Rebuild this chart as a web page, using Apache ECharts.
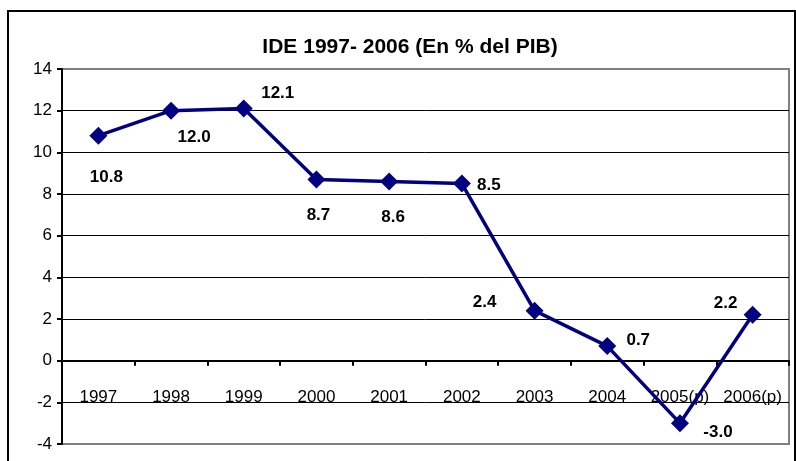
<!DOCTYPE html>
<html>
<head>
<meta charset="utf-8">
<script src="https://cdn.jsdelivr.net/npm/echarts@6/dist/echarts.min.js"></script>
<style>
  html, body { margin: 0; padding: 0; background: #fff; }
  #chart { width: 796px; height: 461px; }
</style>
</head>
<body>
<div id="chart"></div>
<script>
// data
var years = ["1997", "1998", "1999", "2000", "2001", "2002", "2003", "2004", "2005(p)", "2006(p)"];
var ide = [10.8, 12.0, 12.1, 8.7, 8.6, 8.5, 2.4, 0.7, -3.0, 2.2];
var yTicks = { min: -4, max: 14, step: 2 };

// where each value label sits, relative to its marker
var labelShift = [[8, 42], [23, 27], [34, -15], [2, 36], [4, 36], [27, 2], [-50, -8], [31, -6], [38, 9], [-27, -12]];

var font = "'Liberation Sans', Arial, sans-serif";

var seriesData = ide.map((v, i) => {
  return {
    value: v,
    label: { offset: labelShift[i] }
  };
});

// grid box, in px
var gTop = 69, gBottom = 17, chartH = 461;
// x axis sits on the zero line: shift it up from the grid bottom
var plotH = chartH - gTop - gBottom;
var zeroShift = -plotH * (0 - yTicks.min) / (yTicks.max - yTicks.min);

var chart = echarts.init(document.getElementById("chart"));
var option = {
  backgroundColor: "#fff",
  animation: false,
  title: {
    text: "IDE 1997- 2006 (En % del PIB)",
    left: 405,
    textAlign: "center",
    top: 32,
    textStyle: { fontFamily: font, fontSize: 21, fontWeight: "bold", color: "#000" }
  },
  graphic: [{
    type: "rect",
    shape: { x: 8, y: 11, width: 787, height: 470 },
    style: { fill: "none", stroke: "#000", lineWidth: 2 },
    z: 0
  }],
  grid: {
    left: 62, top: gTop, right: 7, bottom: gBottom,
    outerBoundsMode: "none",
    containLabel: false,
    show: true,
    borderColor: "#808080",
    borderWidth: 2
  },
  xAxis: {
    type: "category",
    data: years,
    boundaryGap: true,
    position: "bottom",
    offset: zeroShift,
    axisLine: { onZero: false, lineStyle: { color: "#000", width: 2 } },
    axisTick: { show: true, length: 5, lineStyle: { color: "#000", width: 2 } },
    axisLabel: { margin: 28, fontFamily: font, fontSize: 17, color: "#000", interval: 0 },
    splitLine: { show: false }
  },
  yAxis: {
    type: "value",
    min: yTicks.min,
    max: yTicks.max,
    interval: yTicks.step,
    axisLine: { show: true, lineStyle: { color: "#000", width: 2 } },
    axisTick: { show: true, length: 5, lineStyle: { color: "#000", width: 2 } },
    axisLabel: { margin: 10, fontFamily: font, fontSize: 17, color: "#000" },
    splitLine: { show: true, showMinLine: false, showMaxLine: false, lineStyle: { color: "#000", width: 1 } }
  },
  series: [{
    name: "IDE",
    type: "line",
    data: seriesData,
    symbol: "diamond",
    symbolSize: 18,
    lineStyle: { color: "#000080", width: 3.5 },
    itemStyle: { color: "#000080" },
    label: {
      show: true,
      position: "inside",
      align: "center",
      verticalAlign: "middle",
      formatter: (p) => p.value.toFixed(1),
      fontFamily: font,
      fontSize: 17,
      fontWeight: "bold",
      color: "#000"
    },
    z: 5
  }]
};
chart.setOption(option);
</script>
</body>
</html>
